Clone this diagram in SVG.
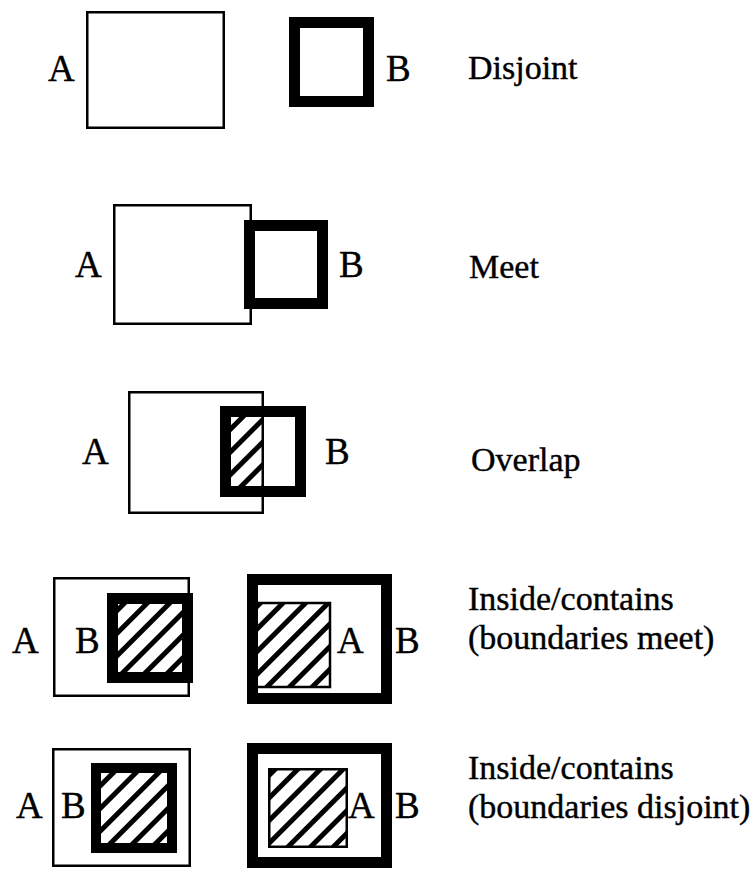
<svg xmlns="http://www.w3.org/2000/svg" width="754" height="869" viewBox="0 0 754 869">
<style>
.thin{fill:none;stroke:#000;stroke-width:2.5}
.thick{fill:none;stroke:#000;stroke-width:11}
.hatch{fill:url(#hatch)}
text{font-family:'Liberation Serif','Times New Roman',serif;fill:#000;stroke:#000;stroke-width:0.4}
.lbl{font-size:37px}
.cap{font-size:34px}
</style>
<defs>
<pattern id="hatch" patternUnits="userSpaceOnUse" width="16" height="16" patternTransform="rotate(45)">
<rect x="0" y="0" width="5" height="16" fill="#000"/>
</pattern>
</defs>
<rect width="754" height="869" fill="#fff"/>
<g id="disjoint">
<rect class="thin" x="87.25" y="12.25" width="136.5" height="115.5"/>
<rect class="thick" x="294.5" y="22.5" width="74" height="79"/>
<text class="lbl" x="48" y="81">A</text>
<text class="lbl" x="386" y="81">B</text>
<text class="cap" x="468" y="79">Disjoint</text>
</g>
<g id="meet">
<rect class="thin" x="114.25" y="205.25" width="136.5" height="118.5"/>
<rect class="thick" x="249.5" y="225.5" width="73" height="78"/>
<text class="lbl" x="75" y="277">A</text>
<text class="lbl" x="339" y="277">B</text>
<text class="cap" x="469" y="278">Meet</text>
</g>
<g id="overlap">
<rect class="hatch" x="231" y="417" width="31" height="69"/>
<rect class="thin" x="129.25" y="392.25" width="133.5" height="120.5"/>
<rect class="thick" x="225.5" y="411.5" width="75" height="80"/>
<text class="lbl" x="82" y="464">A</text>
<text class="lbl" x="325" y="464">B</text>
<text class="cap" x="471" y="471">Overlap</text>
</g>
<g id="inside-meet">
<rect class="thin" x="54.25" y="578.25" width="134.5" height="117.5"/>
<rect class="hatch" x="118" y="604" width="65" height="69"/>
<rect class="thick" x="112.5" y="598.5" width="75" height="79"/>
<text class="lbl" x="12" y="653">A</text>
<text class="lbl" x="75" y="653">B</text>
<rect class="hatch" x="256" y="603" width="74" height="84"/>
<rect class="thin" x="256" y="603" width="74" height="84"/>
<rect class="thick" x="252.5" y="579.5" width="134" height="119"/>
<text class="lbl" x="337" y="653">A</text>
<text class="lbl" x="395" y="653">B</text>
<text class="cap" x="468" y="610">Inside/contains</text>
<text class="cap" x="468" y="649">(boundaries meet)</text>
</g>
<g id="inside-disjoint">
<rect class="thin" x="53.25" y="749.25" width="136.5" height="116.5"/>
<rect class="hatch" x="101" y="773" width="66" height="70"/>
<rect x="96" y="768" width="76" height="80" fill="none" stroke="#000" stroke-width="10"/>
<text class="lbl" x="16" y="818">A</text>
<text class="lbl" x="61" y="818">B</text>
<rect class="thick" x="252.5" y="748.5" width="134" height="114"/>
<rect class="hatch" x="269.25" y="769.25" width="77.5" height="77.5"/>
<rect class="thin" x="269.25" y="769.25" width="77.5" height="77.5"/>
<text class="lbl" x="348" y="818">A</text>
<text class="lbl" x="395" y="818">B</text>
<text class="cap" x="468" y="779">Inside/contains</text>
<text class="cap" x="468" y="818">(boundaries disjoint)</text>
</g>
<g id="connectors"></g>
</svg>
